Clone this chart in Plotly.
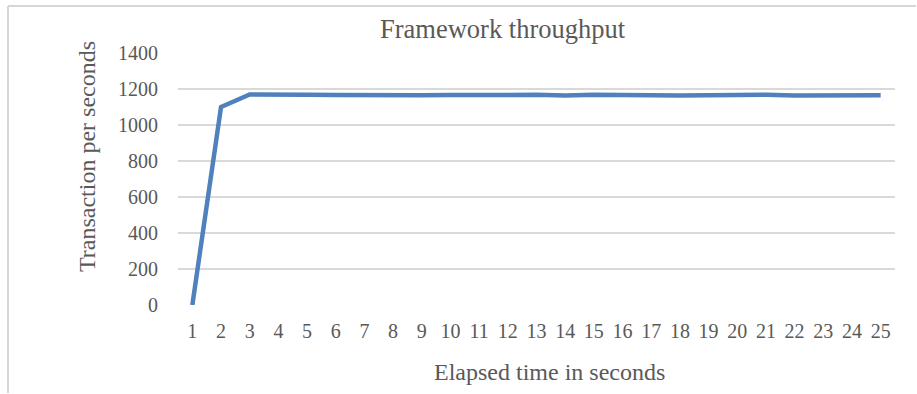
import plotly.graph_objects as go

# Elapsed seconds and measured throughput (transactions per second)
seconds = list(range(1, 26))
tps = [0, 1100, 1170, 1166, 1168, 1166, 1164, 1166, 1165, 1166,
       1164, 1166, 1168, 1164, 1168, 1164, 1165, 1164, 1166, 1164,
       1168, 1164, 1166, 1165, 1165]
y_ticks = [0, 200, 400, 600, 800, 1000, 1200, 1400]

W, H = 917, 394
L, R, T, B = 178, 895, 53, 305   # plot area in pixels
pw, ph = R - L, B - T

def px(x):
    return (x - L) / pw

def py(y):
    return (B - y) / ph

text_color = "#595959"
font = "Liberation Serif, Times New Roman, serif"
frame = dict(color="#d6d6d6", width=2)

fig = go.Figure()
fig.add_trace(go.Scatter(
    x=seconds, y=tps, mode="lines",
    line=dict(color="#4f81bd", width=4.5),
    hoverinfo="x+y", showlegend=False,
))

fig.update_layout(
    width=W, height=H,
    margin=dict(l=L, r=W - R, t=T, b=H - B),
    paper_bgcolor="white", plot_bgcolor="white",
    font=dict(family=font, color=text_color, size=20),
    xaxis=dict(
        range=[0.5, 25.5], tickmode="array", tickvals=seconds,
        ticktext=[str(s) for s in seconds],
        showgrid=False, zeroline=False, showline=False,
        ticks="", ticklabelstandoff=12,
        tickfont=dict(size=20, family=font, color=text_color),
        fixedrange=True,
    ),
    yaxis=dict(
        range=[0, 1400], tickmode="array", tickvals=y_ticks,
        showgrid=True, gridcolor="#d9d9d9", gridwidth=1.5,
        zeroline=False, showline=False, ticks="",
        ticklabelstandoff=19,
        tickfont=dict(size=20, family=font, color=text_color),
        fixedrange=True,
    ),
    # chart frame: top and left edges (right and bottom run past the page)
    shapes=[
        dict(type="line", xref="paper", yref="paper",
             x0=px(8), x1=px(916), y0=py(6), y1=py(6), line=frame),
        dict(type="line", xref="paper", yref="paper",
             x0=px(8), x1=px(8), y0=py(6), y1=py(393), line=frame),
    ],
    annotations=[
        dict(text="Framework throughput", xref="paper", yref="paper",
             x=px(503), y=py(29), showarrow=False,
             xanchor="center", yanchor="middle",
             font=dict(size=26.5, family=font, color=text_color)),
        dict(text="Transaction per seconds", xref="paper", yref="paper",
             x=px(87), y=py(157), showarrow=False, textangle=-90,
             xanchor="center", yanchor="middle",
             font=dict(size=24, family=font, color=text_color)),
        dict(text="Elapsed time in seconds", xref="paper", yref="paper",
             x=px(549), y=py(372), showarrow=False,
             xanchor="center", yanchor="middle",
             font=dict(size=24, family=font, color=text_color)),
    ],
)

fig.write_html("out.html")
